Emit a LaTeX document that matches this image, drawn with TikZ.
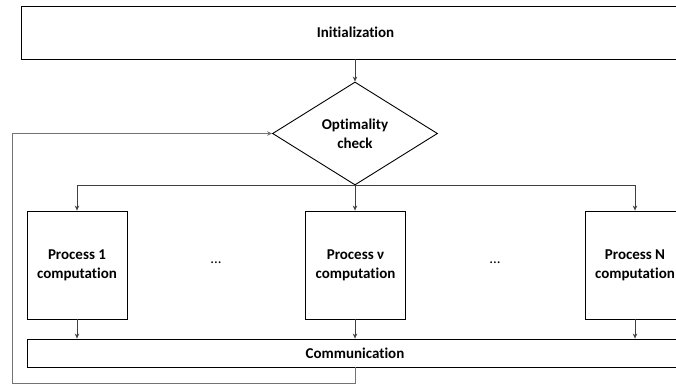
\documentclass[tikz,border=0pt]{standalone}
\usepackage{fontspec}
\setmainfont{Carlito}[Ligatures={NoCommon}]
\usetikzlibrary{shapes.geometric,arrows.meta}
\begin{document}
\begin{tikzpicture}[x=1pt,y=-1pt,
  box/.style={draw=black,line width=0.9pt,inner sep=0pt,align=center,font=\fontsize{15}{19}\selectfont\bfseries},
  conn/.style={draw=black!75,line width=0.6pt},
  arr/.style={conn,-{Stealth[length=5pt,width=4.5pt]}},
  dotsty/.style={font=\fontsize{15}{19}\selectfont}]
\useasboundingbox (0,0) rectangle (676,387);
\clip (0,0) rectangle (676,387);
\node[box,minimum width=669pt,minimum height=53pt] (init) at (355.5,32.5) {Initialization};
\node[box,diamond,aspect=1.6,minimum width=165pt,minimum height=103pt] (opt) at (355,133.5) {Optimality\\check};
\node[box,minimum width=100pt,minimum height=108pt] (p1) at (77,265) {Process 1\\computation};
\node[box,minimum width=100pt,minimum height=108pt] (pv) at (355.5,265) {Process ν\\computation};
\node[box,minimum width=100pt,minimum height=108pt] (pN) at (635,265) {Process N\\computation};
\node[box,minimum width=656pt,minimum height=28pt] (comm) at (355,353) {Communication};
\node[dotsty] (d1) at (216,263) {...};
\node[dotsty] (d2) at (495,263) {...};
\coordinate (fb) at (12,383);
\draw[arr] (init.south -| opt.north) -- (opt.north);
\draw[arr] (opt.south) -| (p1.north);
\draw[arr] (opt.south) -- (opt.south |- pv.north);
\draw[arr] (opt.south) -| (pN.north);
\draw[arr] (p1.south) -- (p1.south |- comm.north);
\draw[arr] (pv.south -| opt.south) -- (opt.south |- comm.north);
\draw[arr] (pN.south) -- (pN.south |- comm.north);
\draw[arr,draw=black!55] (comm.south -| opt.south) |- (fb) |- (opt.west);
\end{tikzpicture}
\end{document}
